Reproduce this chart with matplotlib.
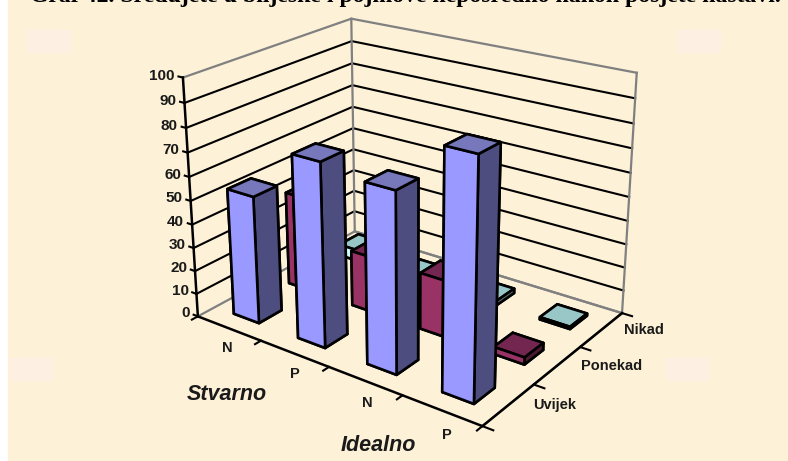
import numpy as np
from matplotlib import pyplot as plt
from matplotlib.patches import Rectangle
from mpl_toolkits.mplot3d import proj3d

W, H = 788, 461

# Podaci
idealno = ["N", "P", "N", "P"]
stvarno = ["Uvijek", "Ponekad", "Nikad"]
uvijek = [54, 76, 73, 94]
ponekad = [41, 24, 24, 3]
nikad = [5, 2, 2, 1]
series = [uvijek, ponekad, nikad]
z_ticks = list(range(0, 101, 10))

# front, side, top colours per series
colors = [("#9999FF", "#4D4D80", "#7777BB"),
          ("#993366", "#4D1A33", "#732650"),
          ("#CCFFFF", "#668080", "#99C7C7")]

# corners of the box in the picture, used to fit the camera
box = [(0, 0, 0), (4, 0, 0), (4, 3, 0), (0, 3, 0), (0, 0, 100), (0, 3, 100), (4, 3, 100)]
pix = [(199, 317), (481, 426), (623, 313), (354, 231), (183, 77), (351, 19), (637, 73)]

plt.rcParams['font.family'] = ['Liberation Sans', 'DejaVu Sans']
fig = plt.figure(figsize=(W / 100, H / 100), dpi=100, facecolor="white")

# parchment background
fig.patches.append(Rectangle((8 / W, 0.002), 1, 1, transform=fig.transFigure, color="#FDF1D8", zorder=-10))
for sx, sy in [(28, 30), (678, 30), (10, 358), (666, 358)]:
    fig.patches.append(Rectangle((sx / W, 1 - (sy + 22) / H), 42 / W, 22 / H, transform=fig.transFigure,
                                 color="#FDF0E2", zorder=-9))

ax = fig.add_axes([0, 0, 1, 1], projection="3d")
ax.apply_aspect = lambda position=None: None
ax.set_axis_off()
ax.patch.set_visible(False)
ax.computed_zorder = False

# fit the projection from the corners
p2d = ax.transData.inverted().transform([(px, H - py) for px, py in pix])
A, b = [], []
for (x, y, z), (u, v) in zip(box, p2d):
    A.append([x, y, z, 1, 0, 0, 0, 0, -u * x, -u * y, -u * z])
    A.append([0, 0, 0, 0, x, y, z, 1, -v * x, -v * y, -v * z])
    b += [u, v]
h = np.linalg.lstsq(np.array(A), np.array(b), rcond=None)[0]
M = np.array([h[:4], h[4:8], [0, 0, 0, -1.0], [h[8], h[9], h[10], 1.0]])
ax.get_proj = lambda: M


def line3(xs, ys, zs, color="black", lw=1.5, zorder=1):
    ax.plot(xs, ys, zs, color=color, lw=lw, zorder=zorder, solid_capstyle="projecting")


def label(x, y, z, s, **kw):
    # plain figure text at the projected point
    u, v, _ = proj3d.proj_transform(x, y, z, M)
    px, py = ax.transData.transform((u, v))
    fig.text(px / W, py / H, s, fontweight="bold", color="#1a1a1a", **kw)


# walls
for z in z_ticks[1:-1]:
    line3([0, 0, 4], [0, 3, 3], [z, z, z])
line3([0, 0, 4], [0, 3, 3], [100, 100, 100], color="#808080", lw=1.6)
line3([0, 0, 4], [0, 3, 3], [0, 0, 0], color="#808080", lw=1.6)
line3([0, 0], [3, 3], [0, 100], color="#808080", lw=1.6)
line3([4, 4], [3, 3], [0, 100], color="#808080", lw=1.6)
line3([0, 4, 4], [3, 3, 0], [0, 0, 0], color="#808080", lw=1.6)

# stupci, from the back row to the front, left to right
bar_w = 0.4
order = 10
for j in reversed(range(len(series))):
    for i in range(len(idealno)):
        c = colors[j]
        ax.bar3d(i + 0.5 - bar_w / 2, j + 0.5 - bar_w / 2, 0, bar_w, bar_w, series[j][i],
                 color=[c[1], c[2], c[0], c[1], c[1], c[1]],
                 edgecolor="black", linewidth=1.9, shade=False, zorder=order)
        order += 1

# axes
line3([0, 0], [0, 0], [0, 100], lw=1.8, zorder=60)
line3([0, 4, 4], [0, 0, 3], [0, 0, 0], lw=1.8, zorder=60)
for z in z_ticks:
    line3([-0.07, 0], [0, 0], [z, z], zorder=60)
    label(-0.13, 0, z, str(z), ha="right", va="center", fontsize=11)
for i in range(len(idealno) + 1):
    line3([i, i], [0, -0.1], [0, 0], zorder=60)
for j in range(len(stvarno) + 1):
    line3([4, 4.13], [j, j], [0, 0], zorder=60)
for i, name in enumerate(idealno):
    label(i + 0.8, -0.34, 0, name, ha="center", va="center", fontsize=10.5)
for j, name in enumerate(stvarno):
    label(4.21, j + 0.64, 0, name, ha="left", va="center", fontsize=10.5)

fig.text(227 / W, 1 - 394 / H, "Stvarno", ha="center", va="center", fontsize=15.5, fontweight="bold",
         fontstyle="italic", color="#1a1a1a")
fig.text(378 / W, 1 - 445 / H, "Idealno", ha="center", va="center", fontsize=15.5, fontweight="bold",
         fontstyle="italic", color="#1a1a1a")
fig.text(30 / W, 1 - 2 / H, "Graf 42. Sređujete u bilješke i pojmove neposredno nakon posjete nastavi.",
         ha="left", va="baseline", fontsize=17.1, fontweight="bold", family=["Liberation Serif"], color="black")

fig.savefig("out.png", dpi=100)
